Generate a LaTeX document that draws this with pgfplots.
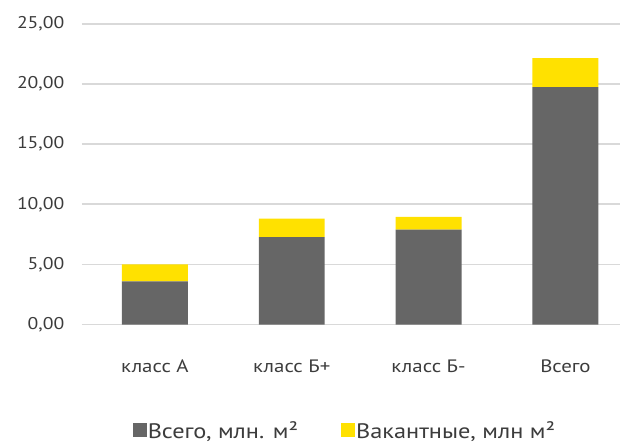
\documentclass[border=0pt]{standalone}
\usepackage{pgfplots}
\pgfplotsset{compat=1.18}
\usepackage{fontspec}
\setmainfont{PT Sans}[FakeStretch=1.16]
\definecolor{barGray}{HTML}{666666}
\definecolor{barYellow}{HTML}{FFE100}
\definecolor{gridGray}{HTML}{D9D9D9}
\definecolor{txt}{HTML}{3C3C3C}
\begin{document}
\begin{tikzpicture}[x=1pt,y=1pt]
\path (0,0) rectangle (621,445);
\begin{axis}[
  at={(82pt,120pt)}, anchor=south west,
  scale only axis, width=539pt, height=301pt,
  ybar stacked, bar width=66pt,
  xmin=-0.534, xmax=3.40, ymin=0, ymax=25,
  xtick={0,1,2,3},
  xticklabels={класс А, класс Б+, класс Б-, Всего},
  ytick={0,5,10,15,20,25},
  yticklabel={\pgfmathprintnumber[fixed,fixed zerofill,precision=2,use comma]{\tick}},
  /pgf/number format/assume math mode=true,
  ymajorgrids, grid style={gridGray, line width=1.8pt},
  axis line style={draw=none},
  major tick length=0pt,
  tick label style={text=txt},
  yticklabel style={font=\fontsize{17}{19}\selectfont, xshift=-14pt},
  xticklabel style={font=\fontsize{18}{20}\selectfont, yshift=-32pt},
  legend columns=2,
  legend style={at={(0.488,-0.352)}, anchor=center, draw=none,
    font=\fontsize{21}{23}\selectfont, text=txt,
    /tikz/every odd column/.append style={column sep=0pt},
    /tikz/every even column/.append style={column sep=42pt},
    nodes={inner xsep=1pt}},
  legend image code/.code={\fill[#1] (0pt,-7pt) rectangle (14pt,7pt);},
]
\addplot[fill=barGray, draw=none] coordinates {(0,3.6) (1,7.28) (2,7.9) (3,19.74)};
\addplot[fill=barYellow, draw=none] coordinates {(0,1.4) (1,1.52) (2,1.05) (3,2.41)};
\legend{{Всего, млн. м²}, {Вакантные, млн м²}}
\end{axis}
\end{tikzpicture}
\end{document}
